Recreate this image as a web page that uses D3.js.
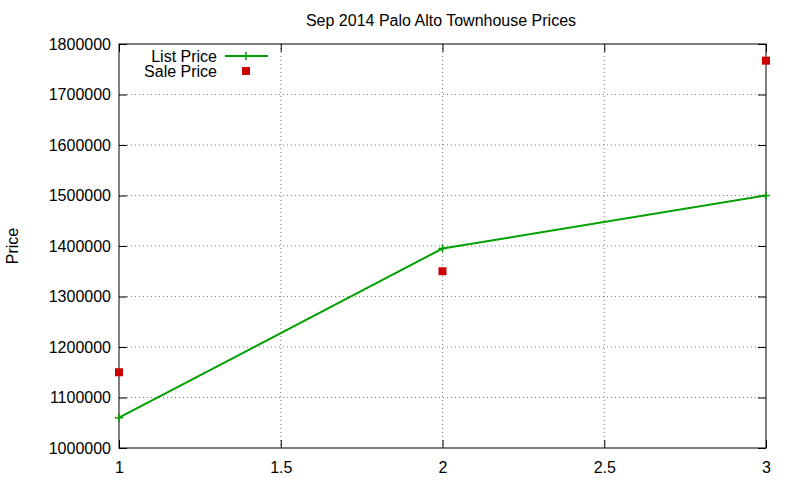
<!DOCTYPE html>
<html><head><meta charset="utf-8">
<script src="https://d3js.org/d3.v7.min.js"></script>
<style>body{margin:0;background:#fff}text{font-family:"Liberation Sans",Arial,sans-serif;font-size:16px;fill:#000}</style>
</head><body><svg id="c" width="800" height="480"></svg>
<script>
const xs = [1, 2, 3];
const listPrice = [1060000, 1395000, 1500000];
const salePrice = [1150000, 1350000, 1767000];
const xTicks = [1, 1.5, 2, 2.5, 3];
const yTicks = [1000000,1100000,1200000,1300000,1400000,1500000,1600000,1700000,1800000];

const svg = d3.select("#c");
const L=119,R=766,T=44,B=448;
const x = d3.scaleLinear().domain([1,3]).range([L,R]);
const y = d3.scaleLinear().domain([1000000,1800000]).range([B,T]);
const g = svg.append("g");
yTicks.forEach(v=>{ if(v>1000000&&v<1800000) g.append("line").attr("x1",L).attr("x2",R).attr("y1",y(v)).attr("y2",y(v)).attr("stroke","#808080").attr("stroke-dasharray","1,3");});
xTicks.forEach(v=>{ if(v>1&&v<3) g.append("line").attr("x1",x(v)).attr("x2",x(v)).attr("y1",T).attr("y2",B).attr("stroke","#808080").attr("stroke-dasharray","1,3");});
svg.append("g").attr("transform",`translate(0,${B})`).call(d3.axisBottom(x).tickValues(xTicks).tickSizeInner(-8).tickSizeOuter(0).tickPadding(14).tickFormat(d3.format("")))
 .call(a=>{a.select(".domain").remove();a.selectAll("text").style("font-size","16px");});
svg.append("g").attr("transform",`translate(0,${T})`).call(d3.axisTop(x).tickValues(xTicks).tickSizeInner(-8).tickSizeOuter(0).tickFormat(""))
 .call(a=>a.select(".domain").remove());
svg.append("g").attr("transform",`translate(${L},0)`).call(d3.axisLeft(y).tickValues(yTicks).tickSizeInner(-8).tickSizeOuter(0).tickPadding(8).tickFormat(d3.format("d")))
 .call(a=>{a.select(".domain").remove();a.selectAll("text").style("font-size","16px");});
svg.append("g").attr("transform",`translate(${R},0)`).call(d3.axisRight(y).tickValues(yTicks).tickSizeInner(-8).tickSizeOuter(0).tickFormat(""))
 .call(a=>a.select(".domain").remove());
svg.append("rect").attr("x",L).attr("y",T).attr("width",R-L).attr("height",B-T).attr("fill","none").attr("stroke","#000");
svg.append("text").attr("x",441).attr("y",26).attr("text-anchor","middle").text("Sep 2014 Palo Alto Townhouse Prices");
svg.append("text").attr("transform","translate(18,246) rotate(-90)").attr("text-anchor","middle").text("Price");
const green="#00a000", red="#cc0000";
svg.append("path").datum(xs.map((d,i)=>[d,listPrice[i]])).attr("fill","none").attr("stroke",green).attr("stroke-width",2)
 .attr("d",d3.line().x(d=>x(d[0])).y(d=>y(d[1])));
function plus(px,py){svg.append("path").attr("d",`M${px-4},${py}H${px+4}M${px},${py-4}V${py+4}`).attr("stroke",green).attr("stroke-width",1.5);}
xs.forEach((d,i)=>plus(x(d),y(listPrice[i])));
xs.forEach((d,i)=>svg.append("rect").attr("x",x(d)-4).attr("y",y(salePrice[i])-4).attr("width",8).attr("height",8).attr("fill",red));
svg.append("text").attr("x",217).attr("y",62).attr("text-anchor","end").text("List Price");
svg.append("line").attr("x1",225).attr("x2",268).attr("y1",56).attr("y2",56).attr("stroke",green).attr("stroke-width",2);
plus(246,56);
svg.append("text").attr("x",217).attr("y",77).attr("text-anchor","end").text("Sale Price");
svg.append("rect").attr("x",242).attr("y",67).attr("width",8).attr("height",8).attr("fill",red);
</script></body></html>
